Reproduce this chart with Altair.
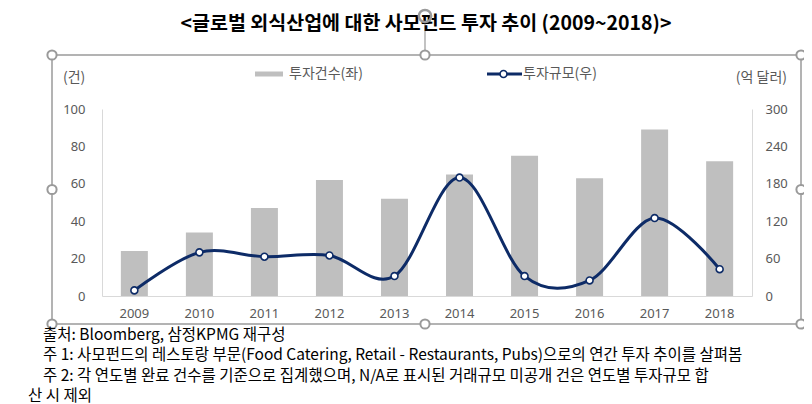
import altair as alt
import pandas as pd

# ---- data ----
years = ["2009", "2010", "2011", "2012", "2013", "2014", "2015", "2016", "2017", "2018"]
deal_counts = [24, 34, 47, 62, 52, 65, 75, 63, 89, 72]          # 투자건수 (건, left axis)
deal_amounts = [9, 70, 63, 65, 32, 190, 32, 25, 125, 43]        # 투자규모 (억 달러, right axis)
left_ticks = [0, 20, 40, 60, 80, 100]
right_ticks = [0, 60, 120, 180, 240, 300]

title_text = "<글로벌 외식산업에 대한 사모펀드 투자 추이 (2009~2018)>"
legend_bar = "투자건수(좌)"
legend_line = "투자규모(우)"
unit_left = "(건)"
unit_right = "(억 달러)"
notes = [
    "출처: Bloomberg, 삼정KPMG 재구성",
    "주 1:   사모펀드의 레스토랑 부문(Food Catering, Retail - Restaurants, Pubs)으로의 연간 투자 추이를 살펴봄",
    "주 2: 각 연도별 완료 건수를 기준으로 집계했으며, N/A로 표시된 거래규모 미공개 건은 연도별 투자규모 합",
    "산 시 제외",
]

df = pd.DataFrame({"year": years, "count": deal_counts, "amount": deal_amounts})

BAR = "#bfbfbf"
NAVY = "#0d2b67"
LABEL = "#595959"
AXISLINE = "#d9d9d9"
FRAME = "#9a9a9a"
NUMFONT = "Noto Sans"
KFONT = "Noto Sans CJK KR"

W, H = 650, 187

xenc = alt.X(
    "year:O",
    sort=years,
    scale=alt.Scale(paddingInner=0.585, paddingOuter=0.29),
    axis=alt.Axis(labelAngle=0, ticks=False, domainColor=AXISLINE, labelColor=LABEL,
                  labelFont=NUMFONT, labelFontSize=13, labelPadding=11, title=None),
)

bars = alt.Chart(df).mark_bar(color=BAR).encode(
    x=xenc,
    y=alt.Y("count:Q", scale=alt.Scale(domain=[0, 100], nice=False),
            axis=alt.Axis(values=left_ticks, orient="left", ticks=False, grid=False,
                          domainColor=AXISLINE, labelColor=LABEL, labelFont=NUMFONT,
                          labelFontSize=13, labelPadding=17, title=None)),
)

line = alt.Chart(df).mark_line(
    color=NAVY, strokeWidth=3, interpolate="cardinal",
    point=alt.OverlayMarkDef(filled=True, fill="white", stroke=NAVY, strokeWidth=1.6, size=48, opacity=1),
).encode(
    x=xenc,
    y=alt.Y("amount:Q", scale=alt.Scale(domain=[0, 300], nice=False),
            axis=alt.Axis(values=right_ticks, orient="right", ticks=False, grid=False,
                          domainColor=AXISLINE, labelColor=LABEL, labelFont=NUMFONT,
                          labelFontSize=13, labelPadding=13, title=None)),
)


def one(text):
    return alt.Chart(pd.DataFrame({"t": [text]}))


decos = []

# selection frame around the chart object
decos.append(one("").mark_rect(filled=False, stroke=FRAME, strokeWidth=1.5).encode(
    x=alt.value(-50), x2=alt.value(699), y=alt.value(-54), y2=alt.value(215)))
# rotation handle stem
decos.append(one("").mark_rule(color=FRAME, strokeWidth=1.2).encode(
    x=alt.value(323), y=alt.value(-89), y2=alt.value(-54)))

# title
decos.append(one(title_text).mark_text(font=KFONT, fontSize=19.5, fontWeight="bold", color="#000000",
                                       align="center", baseline="alphabetic").encode(
    x=alt.value(324), y=alt.value(-79), text="t:N"))

# rotation handle
decos.append(one("").mark_point(shape="circle", filled=False, stroke=FRAME, strokeWidth=2.5,
                                size=150, opacity=1).encode(x=alt.value(323), y=alt.value(-93)))

# resize handles
for hx, hy in [(-50, -54), (323, -54), (699, -54), (-50, 80.5), (699, 80.5),
               (-50, 215), (323, 215), (699, 215)]:
    decos.append(one("").mark_point(shape="circle", filled=True, fill="white", stroke=FRAME,
                                    strokeWidth=2, size=85, opacity=1).encode(
        x=alt.value(hx), y=alt.value(hy)))

# custom legend
decos.append(one("").mark_rect(color=BAR).encode(
    x=alt.value(153), x2=alt.value(181), y=alt.value(-37.5), y2=alt.value(-32.5)))
decos.append(one(legend_bar).mark_text(font=KFONT, fontSize=14, color=LABEL, align="left",
                                       baseline="middle").encode(
    x=alt.value(187), y=alt.value(-35), text="t:N"))
decos.append(one("").mark_rule(color=NAVY, strokeWidth=3).encode(
    x=alt.value(385), x2=alt.value(420), y=alt.value(-35)))
decos.append(one("").mark_point(shape="circle", filled=True, fill="white", stroke=NAVY,
                                strokeWidth=1.6, size=48, opacity=1).encode(
    x=alt.value(401.5), y=alt.value(-35)))
decos.append(one(legend_line).mark_text(font=KFONT, fontSize=14, color=LABEL, align="left",
                                        baseline="middle").encode(
    x=alt.value(421), y=alt.value(-35), text="t:N"))

# axis unit labels
decos.append(one(unit_left).mark_text(font=KFONT, fontSize=14, color=LABEL, align="left",
                                      baseline="middle").encode(
    x=alt.value(-39), y=alt.value(-31), text="t:N"))
decos.append(one(unit_right).mark_text(font=KFONT, fontSize=14, color=LABEL, align="right",
                                       baseline="middle").encode(
    x=alt.value(685), y=alt.value(-31), text="t:N"))

# notes below the chart
for i, (nx, ny) in enumerate([(-59, 225.5), (-59, 246), (-59, 266.5), (-74, 286.5)]):
    decos.append(one(notes[i]).mark_text(font=KFONT, fontSize=15.5, color="#000000", align="left",
                                         baseline="middle").encode(
        x=alt.value(nx), y=alt.value(ny), text="t:N"))

chart = alt.layer(bars, line, *decos).resolve_scale(y="independent").properties(
    width=W, height=H,
    autosize=alt.AutoSizeParams(type="none"),
    padding={"left": 94, "top": 101, "right": 52, "bottom": 108},
    background="white",
).configure_view(strokeWidth=0)

chart.save("out.html", embed_options={"renderer": "svg", "actions": False})
